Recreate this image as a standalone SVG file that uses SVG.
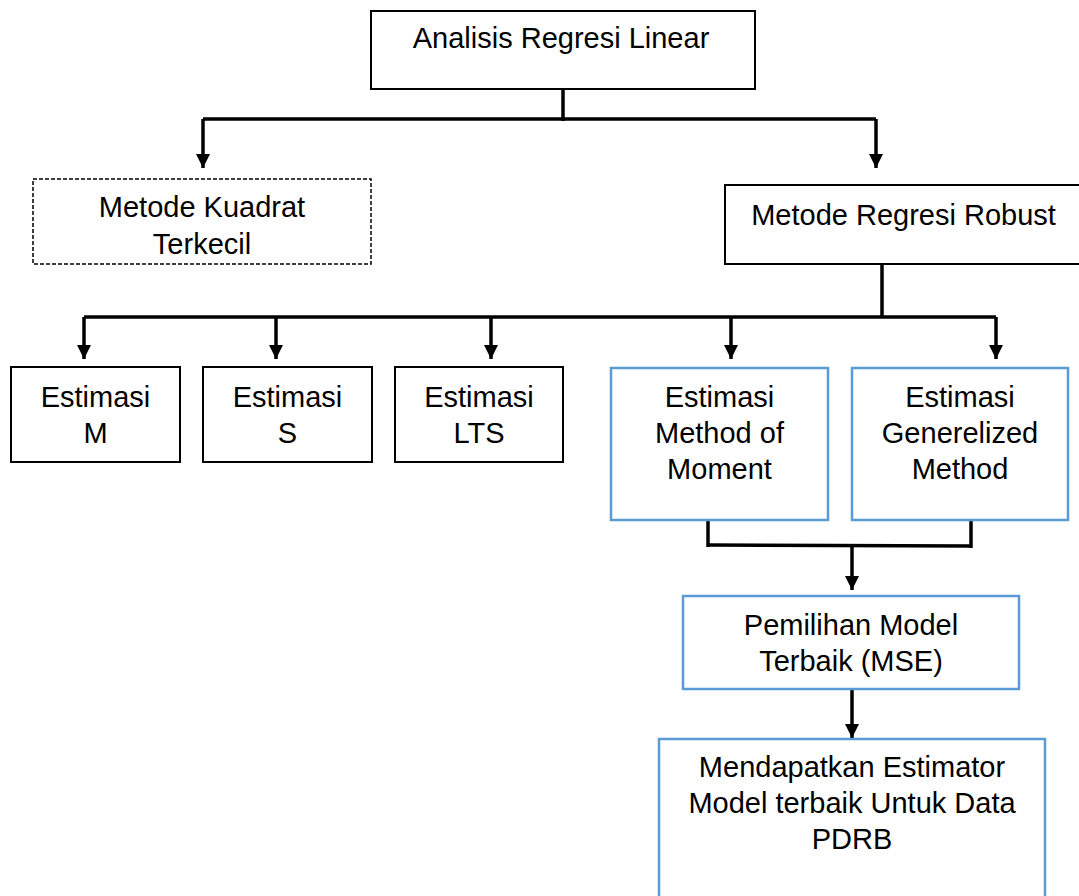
<svg xmlns="http://www.w3.org/2000/svg" width="1079" height="896" viewBox="0 0 1079 896">
<style>
  .box{fill:#fff;stroke:#000;stroke-width:2}
  .blue{fill:#fff;stroke:#5B9BD5;stroke-width:2.5}
  .dash{fill:#fff;stroke:#000;stroke-width:1.5;stroke-dasharray:4 2}
  .t{font-family:"Liberation Sans",Arial,sans-serif;font-size:29px;fill:#000;text-anchor:middle}
  .c{fill:none;stroke:#000;stroke-width:3.5}
</style>
<defs>
  <marker id="ah" markerUnits="userSpaceOnUse" markerWidth="14" markerHeight="14" refX="14" refY="7" orient="auto" viewBox="0 0 14 14">
    <path d="M0,0 L14,7 L0,14 Z" fill="#000"/>
  </marker>
</defs>
<rect width="1079" height="896" fill="#fff"/>

<g id="connectors">
  <path class="c" d="M563,89 V121"/>
  <path class="c" d="M203,119 H876"/>
  <path class="c" d="M203,119 V168" marker-end="url(#ah)"/>
  <path class="c" d="M876,119 V168" marker-end="url(#ah)"/>
  <path class="c" d="M882,264 V318"/>
  <path class="c" d="M84,317 H996"/>
  <path class="c" d="M84,317 V359" marker-end="url(#ah)"/>
  <path class="c" d="M276,317 V359" marker-end="url(#ah)"/>
  <path class="c" d="M491,317 V359" marker-end="url(#ah)"/>
  <path class="c" d="M731,317 V359" marker-end="url(#ah)"/>
  <path class="c" d="M996,317 V359" marker-end="url(#ah)"/>
  <path class="c" d="M708,520 V547"/>
  <path class="c" d="M971,520 V548"/>
  <path class="c" d="M708,545 L971,546"/>
  <path class="c" d="M852,545 V590" marker-end="url(#ah)"/>
  <path class="c" d="M852,689 V738" marker-end="url(#ah)"/>
</g>

<g id="n-analisis">
  <rect class="box" x="371" y="11" width="384" height="78"/>
  <text class="t" x="561" y="48">Analisis Regresi Linear</text>
</g>
<g id="n-kuadrat">
  <rect class="dash" x="33" y="179" width="338" height="85"/>
  <text class="t" x="202" y="217">Metode Kuadrat</text>
  <text class="t" x="202" y="254">Terkecil</text>
</g>
<g id="n-robust">
  <rect class="box" x="725" y="185" width="360" height="79"/>
  <text class="t" x="903.5" y="225">Metode Regresi Robust</text>
</g>
<g id="n-m">
  <rect class="box" x="11" y="367" width="169" height="95"/>
  <text class="t" x="95.5" y="407">Estimasi</text>
  <text class="t" x="95.5" y="443">M</text>
</g>
<g id="n-s">
  <rect class="box" x="203" y="367" width="169" height="95"/>
  <text class="t" x="287.5" y="407">Estimasi</text>
  <text class="t" x="287.5" y="443">S</text>
</g>
<g id="n-lts">
  <rect class="box" x="395" y="367" width="168" height="95"/>
  <text class="t" x="479" y="407">Estimasi</text>
  <text class="t" x="479" y="443">LTS</text>
</g>
<g id="n-mom">
  <rect class="blue" x="611" y="368" width="217" height="152"/>
  <text class="t" x="719.5" y="407">Estimasi</text>
  <text class="t" x="719.5" y="443">Method of</text>
  <text class="t" x="719.5" y="479">Moment</text>
</g>
<g id="n-gen">
  <rect class="blue" x="852" y="368" width="216" height="152"/>
  <text class="t" x="960" y="407">Estimasi</text>
  <text class="t" x="960" y="443">Generelized</text>
  <text class="t" x="960" y="479">Method</text>
</g>
<g id="n-pemilihan">
  <rect class="blue" x="683" y="596" width="336" height="93"/>
  <text class="t" x="851" y="635">Pemilihan Model</text>
  <text class="t" x="851" y="671">Terbaik (MSE)</text>
</g>
<g id="n-mendapatkan">
  <rect class="blue" x="659" y="739" width="386" height="170"/>
  <text class="t" x="852" y="777">Mendapatkan Estimator</text>
  <text class="t" x="852" y="813">Model terbaik Untuk Data</text>
  <text class="t" x="852" y="849">PDRB</text>
</g>
</svg>
